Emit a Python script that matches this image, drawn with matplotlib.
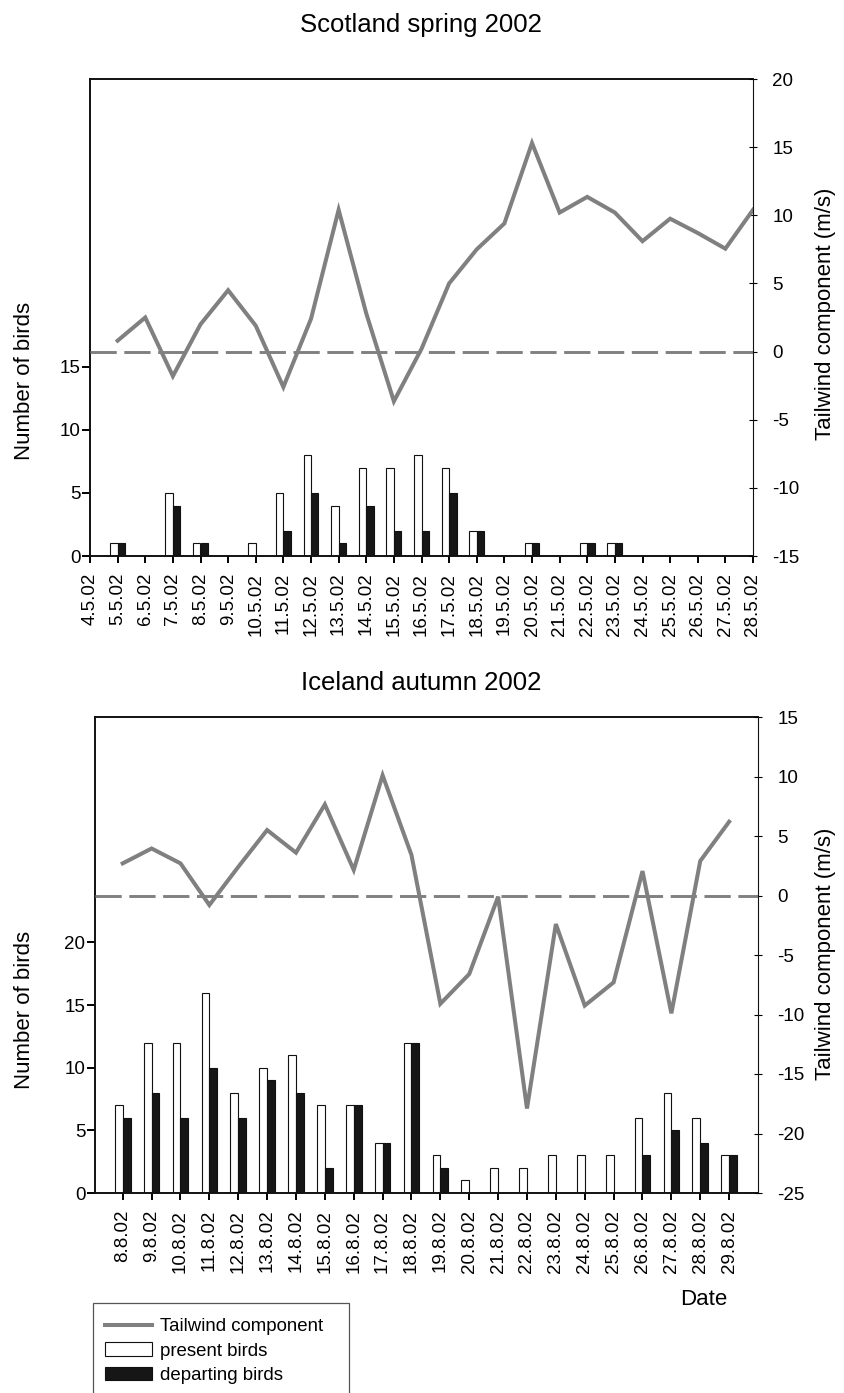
import numpy as np
import matplotlib
matplotlib.use("Agg")
import matplotlib.pyplot as plt
from matplotlib.lines import Line2D
from matplotlib.patches import Patch, Rectangle

plt.rcParams['font.family'] = ['Liberation Sans', 'DejaVu Sans']
plt.rcParams['axes.unicode_minus'] = False

# Scotland spring 2002
scot_dates = ["4.5.02", "5.5.02", "6.5.02", "7.5.02", "8.5.02", "9.5.02", "10.5.02",
              "11.5.02", "12.5.02", "13.5.02", "14.5.02", "15.5.02", "16.5.02",
              "17.5.02", "18.5.02", "19.5.02", "20.5.02", "21.5.02", "22.5.02",
              "23.5.02", "24.5.02", "25.5.02", "26.5.02", "27.5.02", "28.5.02"]
scot_present = [0, 1, 0, 5, 1, 0, 1, 5, 8, 4, 7, 7, 8, 7, 2, 0, 1, 0, 1, 1, 0, 0, 0, 0, 0]
scot_depart = [0, 1, 0, 4, 1, 0, 0, 2, 5, 1, 4, 2, 2, 5, 2, 0, 1, 0, 1, 1, 0, 0, 0, 0, 0]
scot_wind = [np.nan, 0.8, 2.5, -1.8, 2.0, 4.5, 1.9, -2.6, 2.4, 10.4, 2.8, -3.65, 0.2,
             5.0, 7.5, 9.4, 15.3, 10.2, 11.35, 10.2, 8.1, 9.75, 8.7, 7.55, 10.4]

# Iceland autumn 2002
ice_dates = ["8.8.02", "9.8.02", "10.8.02", "11.8.02", "12.8.02", "13.8.02", "14.8.02",
             "15.8.02", "16.8.02", "17.8.02", "18.8.02", "19.8.02", "20.8.02", "21.8.02",
             "22.8.02", "23.8.02", "24.8.02", "25.8.02", "26.8.02", "27.8.02", "28.8.02",
             "29.8.02"]
ice_present = [7, 12, 12, 16, 8, 10, 11, 7, 7, 4, 12, 3, 1, 2, 2, 3, 3, 3, 6, 8, 6, 3]
ice_depart = [6, 8, 6, 10, 6, 9, 8, 2, 7, 4, 12, 2, 0, 0, 0, 0, 0, 0, 3, 5, 4, 3]
ice_wind = [2.7, 3.95, 2.7, -0.8, 2.4, 5.5, 3.6, 7.65, 2.15, 10.1, 3.4, -9.1, -6.6,
            -0.1, -17.9, -2.4, -9.25, -7.3, 2.05, -9.9, 2.9, 6.2]

W, H = 844, 1393
fig = plt.figure(figsize=(W / 100, H / 100), dpi=100)

GRAY = '#808080'
BW = 0.27


def px_axes(x0, y0, x1, y1):
    return fig.add_axes([x0 / W, 1 - y1 / H, (x1 - x0) / W, (y1 - y0) / H])


def draw_panel(ax, dates, present, depart, wind, xlim, left_max, left_ticks, right_lim):
    x = np.arange(len(dates))
    ax.bar(x - BW / 2, present, BW, color='white', edgecolor='#111111', linewidth=0.8)
    ax.bar(x + BW / 2, depart, BW, color='#161616', edgecolor='#111111', linewidth=0.8)
    ax.set_xlim(*xlim)
    ax.set_ylim(0, left_max)
    ax.set_yticks(left_ticks)
    ax.set_xticks(x)
    ax.set_xticklabels(dates, rotation=90, fontsize=13.5)
    ax.tick_params(axis='y', labelsize=13.5, length=6, width=1.4, pad=1, direction='out')
    ax.tick_params(axis='x', length=5, width=1.4, pad=7, direction='out')
    for s in ['left', 'top', 'bottom']:
        ax.spines[s].set_linewidth(1.4)
        ax.spines[s].set_color('#111111')
    ax.spines['right'].set_visible(False)

    ax2 = ax.twinx()
    ax2.plot(x, wind, color=GRAY, lw=2.9, solid_joinstyle='miter')
    ax2.axhline(0, color=GRAY, lw=2.1, dashes=[9, 2.6])
    ax2.set_ylim(*right_lim)
    ax2.set_yticks(np.arange(right_lim[0], right_lim[1] + 1, 5))
    ax2.tick_params(axis='y', labelsize=13.5, length=6, width=0.8, pad=11, direction='inout')
    for s in ['left', 'top', 'bottom']:
        ax2.spines[s].set_visible(False)
    ax2.spines['right'].set_linewidth(0.8)
    ax2.spines['right'].set_color('#111111')
    return ax2


ax_top = px_axes(90, 79, 753, 556)
draw_panel(ax_top, scot_dates, scot_present, scot_depart, scot_wind,
           (0, 24), 37.8, [0, 5, 10, 15], (-15, 20))

ax_bot = px_axes(95, 717, 758, 1193)
draw_panel(ax_bot, ice_dates, ice_present, ice_depart, ice_wind,
           (-0.96, 22.0), 38.0, [0, 5, 10, 15, 20], (-25, 15))

# titles and axis labels
fig.text(421 / W, 1 - 32 / H, "Scotland spring 2002", ha='center', va='baseline', fontsize=18.5)
fig.text(421 / W, 1 - 690 / H, "Iceland autumn 2002", ha='center', va='baseline', fontsize=18.5)
fig.text(24.5 / W, 1 - 381 / H, "Number of birds", rotation=90, ha='center', va='center', fontsize=16)
fig.text(24.5 / W, 1 - 1010 / H, "Number of birds", rotation=90, ha='center', va='center', fontsize=16)
fig.text(825 / W, 1 - 314 / H, "Tailwind component (m/s)", rotation=90, ha='center', va='center', fontsize=16)
fig.text(825 / W, 1 - 954 / H, "Tailwind component (m/s)", rotation=90, ha='center', va='center', fontsize=16)
fig.text(704 / W, 1 - 1305 / H, "Date", ha='center', va='baseline', fontsize=16)

# legend box (runs off the bottom of the page)
fig.add_artist(Rectangle((93 / W, -0.02), (349 - 93) / W, 0.02 + 1 - 1302.7 / H,
                         transform=fig.transFigure, fill=False, edgecolor='#555555', lw=0.9))
handles = [Line2D([], [], color=GRAY, lw=2.9),
           Patch(facecolor='white', edgecolor='#111111', linewidth=0.8),
           Patch(facecolor='#161616', edgecolor='#111111', linewidth=0.8)]
labels = ["Tailwind component", "present birds", "departing birds"]
fig.legend(handles, labels, loc='upper left', bbox_to_anchor=(105 / W, 1 - 1318 / H),
           frameon=False, fontsize=13.4, borderpad=0, borderaxespad=0,
           handlelength=2.5, handleheight=0.75, handletextpad=0.45, labelspacing=0.38)

fig.savefig("out.png", dpi=100)
